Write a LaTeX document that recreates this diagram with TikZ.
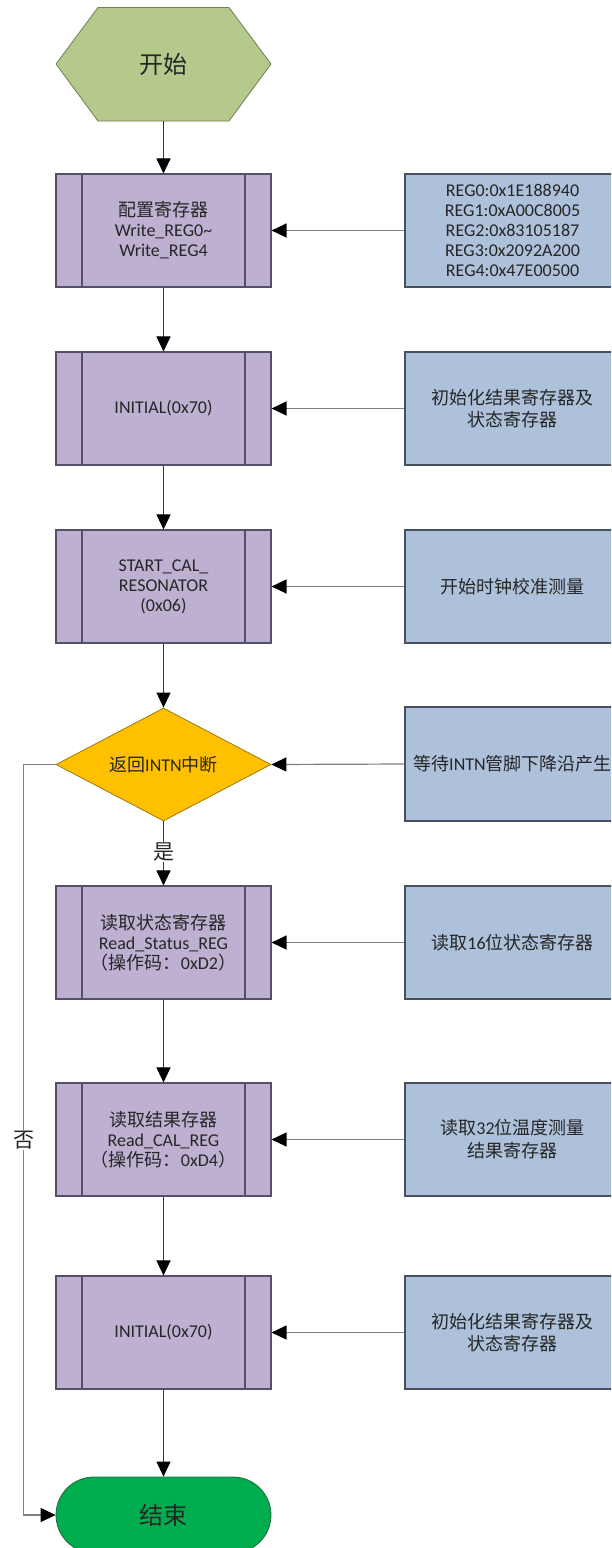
\documentclass[tikz,border=0pt]{standalone}
\usepackage{fontspec}
\setmainfont{Carlito}
\newfontfamily\cjk{Noto Sans CJK SC}
\newcommand{\zh}[1]{{\cjk #1}}
\usetikzlibrary{shapes.geometric,arrows.meta,calc}
\definecolor{hexgreen}{HTML}{B4C98B}
\definecolor{hexborder}{HTML}{6F7F55}
\definecolor{procfill}{HTML}{BEB0D1}
\definecolor{procborder}{HTML}{55506A}
\definecolor{notefill}{HTML}{AEC1DB}
\definecolor{noteborder}{HTML}{47505E}
\definecolor{decfill}{HTML}{FFC000}
\definecolor{decborder}{HTML}{9C7A10}
\definecolor{endfill}{HTML}{00AD4E}
\definecolor{endborder}{HTML}{1F6A3C}
\definecolor{txt}{HTML}{262626}
\definecolor{mainline}{HTML}{333333}
\definecolor{sideline}{HTML}{808080}
\begin{document}
\begin{tikzpicture}[x=1pt,y=-1pt,
  every node/.style={text=txt},
  basefont/.style={font=\fontsize{18pt}{20pt}\selectfont},
  procbox/.style={basefont, draw=procborder, line width=1.1pt, fill=procfill,
    minimum width=215pt, minimum height=113pt, inner sep=0pt, align=center,
    path picture={
      \draw[procborder, line width=1.1pt]
        ([xshift=26pt]path picture bounding box.north west) --
        ([xshift=26pt]path picture bounding box.south west);
      \draw[procborder, line width=1.1pt]
        ([xshift=-26pt]path picture bounding box.north east) --
        ([xshift=-26pt]path picture bounding box.south east);
    }},
  notebox/.style={basefont, draw=noteborder, line width=1.1pt, fill=notefill,
    minimum width=215pt, minimum height=113pt, inner sep=0pt, align=center},
  decision/.style={basefont, diamond, aspect=2, draw=decborder, line width=0.8pt, fill=decfill,
    minimum width=215pt, minimum height=113pt, inner sep=0pt},
  endbox/.style={draw=endborder, line width=0.8pt, fill=endfill,
    rectangle, rounded corners=38pt, minimum width=215pt, minimum height=76pt,
    font=\fontsize{24pt}{26pt}\selectfont},
  flow/.style={draw=mainline, line width=1pt, -{Triangle[length=15pt,width=14pt,color=black]}},
  feed/.style={draw=sideline, line width=1.2pt, -{Triangle[length=15pt,width=14pt,color=black]}},
  lbl/.style={fill=white, inner sep=1pt, font=\fontsize{21pt}{23pt}\selectfont}
]
\useasboundingbox (0,0) rectangle (611,1548);
\clip (0,0) rectangle (611,1548);
\fill[white] (0,0) rectangle (611,1548);

% start hexagon
\filldraw[fill=hexgreen, draw=hexborder, line width=0.8pt]
  (56,64) -- (98,7.5) -- (229,7.5) -- (271,64) -- (229,121) -- (98,121) -- cycle;
\node[minimum width=215pt, minimum height=113.5pt, inner sep=0pt,
  font=\fontsize{24pt}{26pt}\selectfont] (start) at (163.5,64.25) {\zh{开始}};

% process boxes
\node[procbox] (p1) at (163.5,230.5) {\zh{配置寄存器}\\Write\_REG0\textasciitilde\\Write\_REG4};
\node[procbox] (p2) at (163.5,408.5) {INITIAL(0x70)};
\node[procbox] (p3) at (163.5,586.5) {START\_CAL\_\\RESONATOR\\(0x06)};
\node[decision] (d) at (163.5,764.5) {\zh{返回}INTN\zh{中断}};
\node[procbox] (p4) at (163.5,942.5) {\zh{读取状态寄存器}\\Read\_Status\_REG\\\zh{（操作码：}0xD2\zh{）}};
\node[procbox] (p5) at (163.5,1139.5) {\zh{读取结果存器}\\Read\_CAL\_REG\\\zh{（操作码：}0xD4\zh{）}};
\node[procbox] (p6) at (163.5,1332.5) {INITIAL(0x70)};
\node[endbox] (e) at (163.5,1515) {\zh{结束}};

% note boxes
\node[notebox] (n1) at (512.5,230.5) {REG0:0x1E188940\\REG1:0xA00C8005\\REG2:0x83105187\\REG3:0x2092A200\\REG4:0x47E00500};
\node[notebox] (n2) at (512.5,408.5) {\zh{初始化结果寄存器及}\\[2pt]\zh{状态寄存器}};
\node[notebox] (n3) at (512.5,586.5) {\zh{开始时钟校准测量}};
\node[notebox, minimum height=114pt] (n4) at (512.5,764) {\zh{等待}INTN\zh{管脚下降沿产生}};
\node[notebox] (n5) at (512.5,942.5) {\zh{读取}16\zh{位状态寄存器}};
\node[notebox] (n6) at (512.5,1139.5) {\zh{读取}32\zh{位温度测量}\\[3pt]\zh{结果寄存器}};
\node[notebox] (n7) at (512.5,1332.5) {\zh{初始化结果寄存器及}\\[2pt]\zh{状态寄存器}};

% main flow
\draw[flow] (start.south) -- (p1.north);
\draw[flow] (p1.south) -- (p2.north);
\draw[flow] (p2.south) -- (p3.north);
\draw[flow] (p3.south) -- (d.north);
\draw[flow] (d.south) -- node[lbl, pos=0.48] {\zh{是}} (p4.north);
\draw[flow] (p4.south) -- (p5.north);
\draw[flow] (p5.south) -- (p6.north);
\draw[flow] (p6.south) -- (e.north);

% no-branch loop
\coordinate (lt) at (23.5,764.5);
\coordinate (lb) at (23.5,1515);
\draw[feed] (d.west) -- (lt) -- node[lbl, pos=0.5] {\zh{否}} (lb) -- (e.west);

% feeds
\draw[feed] (n1.west) -- (p1.east);
\draw[feed] (n2.west) -- (p2.east);
\draw[feed] (n3.west) -- (p3.east);
\draw[feed] (n4.west) -- (d.east);
\draw[feed] (n5.west) -- (p4.east);
\draw[feed] (n6.west) -- (p5.east);
\draw[feed] (n7.west) -- (p6.east);
\end{tikzpicture}
\end{document}
